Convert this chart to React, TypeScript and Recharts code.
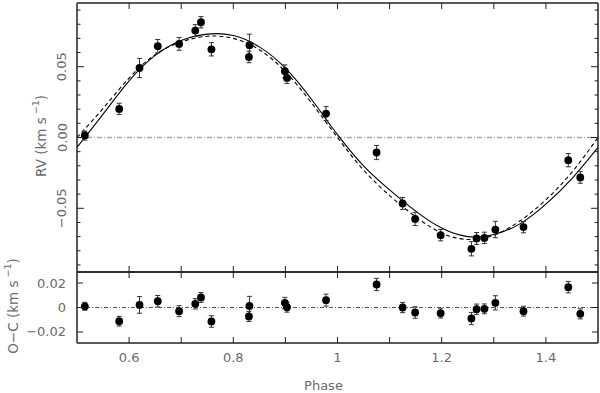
import React from 'react';
import { ComposedChart, Scatter, Line, XAxis, YAxis, ReferenceLine, ReferenceArea, ErrorBar } from 'recharts';

// observed radial velocities, folded on phase
const PHASE = [0.515, 0.581, 0.620, 0.655, 0.696, 0.727, 0.738, 0.758, 0.830, 0.831, 0.899, 0.903,
  0.978, 1.075, 1.125, 1.149, 1.198, 1.257, 1.267, 1.282, 1.303, 1.357, 1.443, 1.466];
const RV = [0.0014, 0.0202, 0.0491, 0.0645, 0.0661, 0.0755, 0.0814, 0.0623, 0.0569, 0.0652, 0.0468, 0.0421,
  0.0169, -0.0106, -0.0466, -0.0575, -0.0690, -0.0786, -0.0713, -0.0709, -0.0650, -0.0633, -0.0160, -0.0282];
const RV_ERR = [0.0032, 0.0040, 0.0068, 0.0047, 0.0045, 0.0042, 0.0040, 0.0047, 0.0041, 0.0078, 0.0045, 0.0040,
  0.0049, 0.0050, 0.0042, 0.0047, 0.0040, 0.0050, 0.0042, 0.0040, 0.0058, 0.0040, 0.0047, 0.0041];
const OC = [0.0010, -0.0112, 0.0021, 0.0051, -0.0030, 0.0030, 0.0082, -0.0114, -0.0073, 0.0013, 0.0038, 0.0002,
  0.0060, 0.0188, 0.0000, -0.0041, -0.0046, -0.0090, -0.0014, -0.0011, 0.0038, -0.0030, 0.0166, -0.0052];

// orbit models
const MODEL_PHASE = [0.50, 0.55, 0.60, 0.65, 0.70, 0.75, 0.80, 0.85, 0.90, 0.95, 1.00,
  1.05, 1.10, 1.15, 1.20, 1.25, 1.30, 1.35, 1.40, 1.45, 1.50];
const MODEL_SOLID = [-0.0070, 0.0165, 0.0400, 0.0580, 0.0685, 0.0730, 0.0720, 0.0640, 0.0490, 0.0270, 0.0020,
  -0.0200, -0.0370, -0.0520, -0.0640, -0.0700, -0.0685, -0.0610, -0.0470, -0.0290, -0.0070];
const MODEL_DASHED = [0.0000, 0.0205, 0.0420, 0.0585, 0.0675, 0.0715, 0.0700, 0.0620, 0.0465, 0.0245, 0.0000,
  -0.0230, -0.0410, -0.0560, -0.0675, -0.0720, -0.0690, -0.0590, -0.0440, -0.0245, 0.0000];

const X_TICKS = [0.6, 0.7, 0.8, 0.9, 1.0, 1.1, 1.2, 1.3, 1.4];
const X_MAJOR = [0.6, 0.8, 1.0, 1.2, 1.4];
const X_LABELS = ['0.6', '0.8', '1', '1.2', '1.4'];

const RV_TICKS = [-0.09, -0.08, -0.07, -0.06, -0.05, -0.04, -0.03, -0.02, -0.01, 0,
  0.01, 0.02, 0.03, 0.04, 0.05, 0.06, 0.07, 0.08, 0.09];
const RV_MAJOR = [-0.05, 0, 0.05];
const RV_LABELS = ['\u22120.05', '0.00', '0.05'];

const OC_TICKS = [-0.02, 0, 0.02];
const OC_LABELS = ['\u22120.02', '0', '0.02'];

const points = PHASE.map((p, i) => ({ phase: p, rv: RV[i], oc: OC[i], err: RV_ERR[i] }));
const model = MODEL_PHASE.map((p, i) => ({ phase: p, solid: MODEL_SOLID[i], dashed: MODEL_DASHED[i] }));

const FONT = 'DejaVu Sans, sans-serif';
const INK = '#6a6a6a';
const FRAME = '#222';
const X_DOMAIN = [0.5, 1.5];
const RV_DOMAIN = [-0.095, 0.095];
const OC_DOMAIN = [-0.029, 0.029];

const findIdx = (list: number[], v: number) => list.findIndex((m) => Math.abs(m - v) < 1e-9);

const XTick = (p: any) => {
  const { x, y, payload, dir, labels } = p;
  const i = findIdx(X_MAJOR, payload.value);
  return (
    <g>
      <line x1={x} y1={y} x2={x} y2={y + dir * 6} stroke={FRAME} strokeWidth={1} />
      {labels && i >= 0 && (
        <text x={x} y={y + 19} textAnchor="middle" fontSize={13} fontFamily={FONT} fill={INK}>{X_LABELS[i]}</text>
      )}
    </g>
  );
};

const YTick = (p: any) => {
  const { x, y, payload, dir, majors, labels, rotate, majorLen, minorLen } = p;
  const i = findIdx(majors, payload.value);
  const len = i >= 0 ? majorLen : minorLen;
  return (
    <g>
      <line x1={x} y1={y} x2={x + dir * len} y2={y} stroke={FRAME} strokeWidth={1} />
      {labels && i >= 0 && (rotate ? (
        <text x={x - 15} y={y} transform={`rotate(-90, ${x - 15}, ${y})`} textAnchor="middle"
          dominantBaseline="central" fontSize={13} fontFamily={FONT} fill={INK}>{labels[i]}</text>
      ) : (
        <text x={x - 11} y={y} textAnchor="end" dominantBaseline="central"
          fontSize={13} fontFamily={FONT} fill={INK}>{labels[i]}</text>
      ))}
    </g>
  );
};

const AxisTitle = ({ cx, cy, head }: { cx: number; cy: number; head: string }) => (
  <text x={cx} y={cy} transform={`rotate(-90, ${cx}, ${cy})`} textAnchor="middle" dominantBaseline="central"
    fontSize={13.5} fontFamily={FONT} fill={INK}>
    {head} (km s<tspan dx={3} dy={-6} fontSize={9.5}>{'\u22121'}</tspan><tspan dy={6}>)</tspan>
  </text>
);

const Dot = (p: any) => <circle cx={p.cx} cy={p.cy} r={3.9} fill="#000" />;
const NoDot = () => <g />;

export default function App() {
  return (
    <div style={{ position: 'absolute', left: 0, top: 0, width: 600, height: 393, background: '#fff' }}>
      <div style={{ position: 'absolute', left: 0, top: 0 }}>
        <ComposedChart width={600} height={276} margin={{ top: 2, right: 1, bottom: 3, left: 0 }}>
          <XAxis dataKey="phase" type="number" domain={X_DOMAIN} allowDataOverflow ticks={X_TICKS} interval={0}
            height={1} tickSize={0} tickMargin={0} tickLine={false} axisLine={{ stroke: FRAME }}
            tick={(p: any) => <XTick {...p} dir={-1} labels={false} />} />
          <XAxis xAxisId="top" orientation="top" dataKey="phase" type="number" domain={X_DOMAIN} allowDataOverflow
            ticks={X_TICKS} interval={0} height={1} tickSize={0} tickMargin={0} tickLine={false} axisLine={{ stroke: FRAME }}
            tick={(p: any) => <XTick {...p} dir={1} labels={false} />} />
          <YAxis type="number" domain={RV_DOMAIN} allowDataOverflow ticks={RV_TICKS} interval={0} width={77}
            tickSize={0} tickMargin={0} tickLine={false} axisLine={{ stroke: FRAME }}
            tick={(p: any) => <YTick {...p} dir={1} majors={RV_MAJOR} labels={RV_LABELS} rotate majorLen={7} minorLen={3.5} />}
            label={() => <AxisTitle cx={41} cy={136} head="RV" />} />
          <YAxis yAxisId="right" orientation="right" type="number" domain={RV_DOMAIN} allowDataOverflow
            ticks={RV_TICKS} interval={0} width={1} tickSize={0} tickMargin={0} tickLine={false} axisLine={{ stroke: FRAME }}
            tick={(p: any) => <YTick {...p} dir={-1} majors={RV_MAJOR} labels={null} majorLen={7} minorLen={3.5} />} />
          <ReferenceArea x1={0.5} x2={1.5} y1={-0.095} y2={0.095} fill="none" stroke={FRAME} strokeWidth={1}
            ifOverflow="visible" />
          <ReferenceLine y={0} stroke="#a8a8a8" strokeWidth={1.5} strokeDasharray="5 2 1 2" />
          <Line data={model} dataKey="solid" type="natural" dot={false} stroke="#000" strokeWidth={1.1}
            isAnimationActive={false} />
          <Line data={model} dataKey="dashed" type="natural" dot={false} stroke="#000" strokeWidth={1.1}
            strokeDasharray="4 3" isAnimationActive={false} />
          <Scatter data={points} dataKey="rv" shape={Dot} isAnimationActive={false}>
            <ErrorBar dataKey="err" direction="y" width={2.5} stroke="#333" strokeWidth={1} />
          </Scatter>
          {/* binds the mirrored top/right axes so they draw their ticks */}
          <Scatter data={points} dataKey="rv" xAxisId="top" yAxisId="right" shape={NoDot} isAnimationActive={false} />
        </ComposedChart>
      </div>
      <div style={{ position: 'absolute', left: 0, top: 240 }}>
        <ComposedChart width={600} height={153} margin={{ top: 31, right: 1, bottom: 0, left: 0 }}>
          <XAxis dataKey="phase" type="number" domain={X_DOMAIN} allowDataOverflow ticks={X_TICKS} interval={0}
            height={50} tickSize={0} tickMargin={0} tickLine={false} axisLine={{ stroke: FRAME }}
            tick={(p: any) => <XTick {...p} dir={-1} labels />}
            label={{ value: 'Phase', position: 'insideBottom', offset: 3, dx: -14, fontSize: 13, fontFamily: FONT, fill: INK }} />
          <XAxis xAxisId="top" orientation="top" dataKey="phase" type="number" domain={X_DOMAIN} allowDataOverflow
            ticks={X_TICKS} interval={0} height={1} tickSize={0} tickMargin={0} tickLine={false} axisLine={{ stroke: FRAME }}
            tick={(p: any) => <XTick {...p} dir={1} labels={false} />} />
          <YAxis type="number" domain={OC_DOMAIN} allowDataOverflow ticks={OC_TICKS} interval={0} width={77}
            tickSize={0} tickMargin={0} tickLine={false} axisLine={{ stroke: FRAME }}
            tick={(p: any) => <YTick {...p} dir={1} majors={OC_TICKS} labels={OC_LABELS} majorLen={6} minorLen={6} />}
            label={() => <AxisTitle cx={13} cy={66} head={'O\u2212C'} />} />
          <YAxis yAxisId="right" orientation="right" type="number" domain={OC_DOMAIN} allowDataOverflow
            ticks={OC_TICKS} interval={0} width={1} tickSize={0} tickMargin={0} tickLine={false} axisLine={{ stroke: FRAME }}
            tick={(p: any) => <YTick {...p} dir={-1} majors={OC_TICKS} labels={null} majorLen={6} minorLen={6} />} />
          <ReferenceArea x1={0.5} x2={1.5} y1={-0.029} y2={0.029} fill="none" stroke={FRAME} strokeWidth={1}
            ifOverflow="visible" />
          <ReferenceLine y={0} stroke="#555" strokeWidth={1} strokeDasharray="4 2 1 2" />
          <Scatter data={points} dataKey="oc" shape={Dot} isAnimationActive={false}>
            <ErrorBar dataKey="err" direction="y" width={2.5} stroke="#333" strokeWidth={1} />
          </Scatter>
          <Scatter data={points} dataKey="oc" xAxisId="top" yAxisId="right" shape={NoDot} isAnimationActive={false} />
        </ComposedChart>
      </div>
    </div>
  );
}
